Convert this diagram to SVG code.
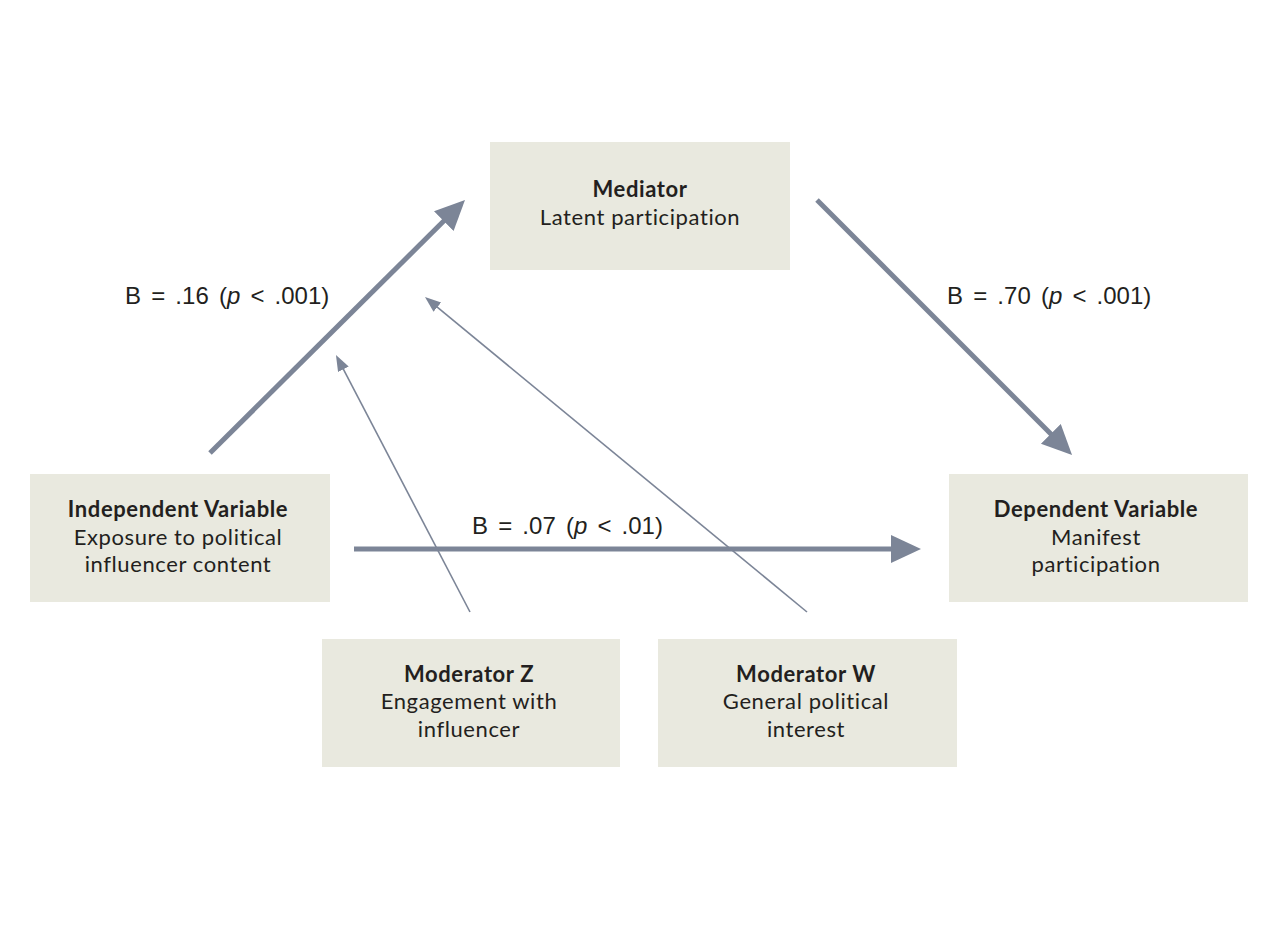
<svg xmlns="http://www.w3.org/2000/svg" width="1280" height="928" viewBox="0 0 1280 928">
<style>
.box{fill:#e9e9df}
.t{font-family:Lato,"Open Sans","Liberation Sans",sans-serif;font-size:22px;letter-spacing:0.6px;fill:#231f20;text-anchor:middle}
.b{font-weight:700}
.lbl{font-family:"Liberation Sans",Arial,sans-serif;font-size:24px;fill:#231f20;word-spacing:3.5px}
.thick{stroke:#7c8597;stroke-width:5;fill:none}
.thin{stroke:#7c8597;stroke-width:1.6;fill:none}
</style>
<defs>
<marker id="ah" markerUnits="userSpaceOnUse" markerWidth="32" markerHeight="30" refX="10" refY="14" orient="auto" viewBox="0 0 32 30">
<path d="M0,0 L30,14 L0,28 z" fill="#7c8597"/>
</marker>
<marker id="ahs" markerUnits="userSpaceOnUse" markerWidth="18" markerHeight="14" refX="6" refY="6" orient="auto" viewBox="0 0 18 14">
<path d="M0,0 L16,6 L0,12 z" fill="#7c8597"/>
</marker>
</defs>
<rect width="1280" height="928" fill="#ffffff"/>
<g id="mediator">
<rect class="box" x="490" y="142" width="300" height="128"/>
<text class="t b" x="640" y="197">Mediator</text>
<text class="t" x="640" y="225">Latent participation</text>
</g>
<g id="independent">
<rect class="box" x="30" y="474" width="300" height="128"/>
<text class="t b" x="178" y="517">Independent Variable</text>
<text class="t" x="178" y="545">Exposure to political</text>
<text class="t" x="178" y="572">influencer content</text>
</g>
<g id="dependent">
<rect class="box" x="949" y="474" width="299" height="128"/>
<text class="t b" x="1096" y="517">Dependent Variable</text>
<text class="t" x="1096" y="545">Manifest</text>
<text class="t" x="1096" y="572">participation</text>
</g>
<g id="moderatorZ">
<rect class="box" x="322" y="639" width="298" height="128"/>
<text class="t b" x="469" y="682">Moderator Z</text>
<text class="t" x="469" y="709">Engagement with</text>
<text class="t" x="469" y="737">influencer</text>
</g>
<g id="moderatorW">
<rect class="box" x="658" y="639" width="299" height="128"/>
<text class="t b" x="806" y="682">Moderator W</text>
<text class="t" x="806" y="709">General political</text>
<text class="t" x="806" y="737">interest</text>
</g>
<g id="connectors">
<line class="thick" x1="210" y1="453" x2="450.8" y2="214.1" marker-end="url(#ah)"/>
<line class="thick" x1="817" y1="200" x2="1057.9" y2="440.9" marker-end="url(#ah)"/>
<line class="thick" x1="354" y1="549" x2="901" y2="549" marker-end="url(#ah)"/>
<line class="thin" x1="470" y1="612" x2="340.6" y2="363.9" marker-end="url(#ahs)"/>
<line class="thin" x1="807" y1="612" x2="432.7" y2="303.4" marker-end="url(#ahs)"/>
<text class="lbl" x="125" y="304">B = .16 (<tspan font-style="italic">p</tspan> &lt; .001)</text>
<text class="lbl" x="947" y="304">B = .70 (<tspan font-style="italic">p</tspan> &lt; .001)</text>
<text class="lbl" x="472" y="534">B = .07 (<tspan font-style="italic">p</tspan> &lt; .01)</text>
</g>
</svg>
